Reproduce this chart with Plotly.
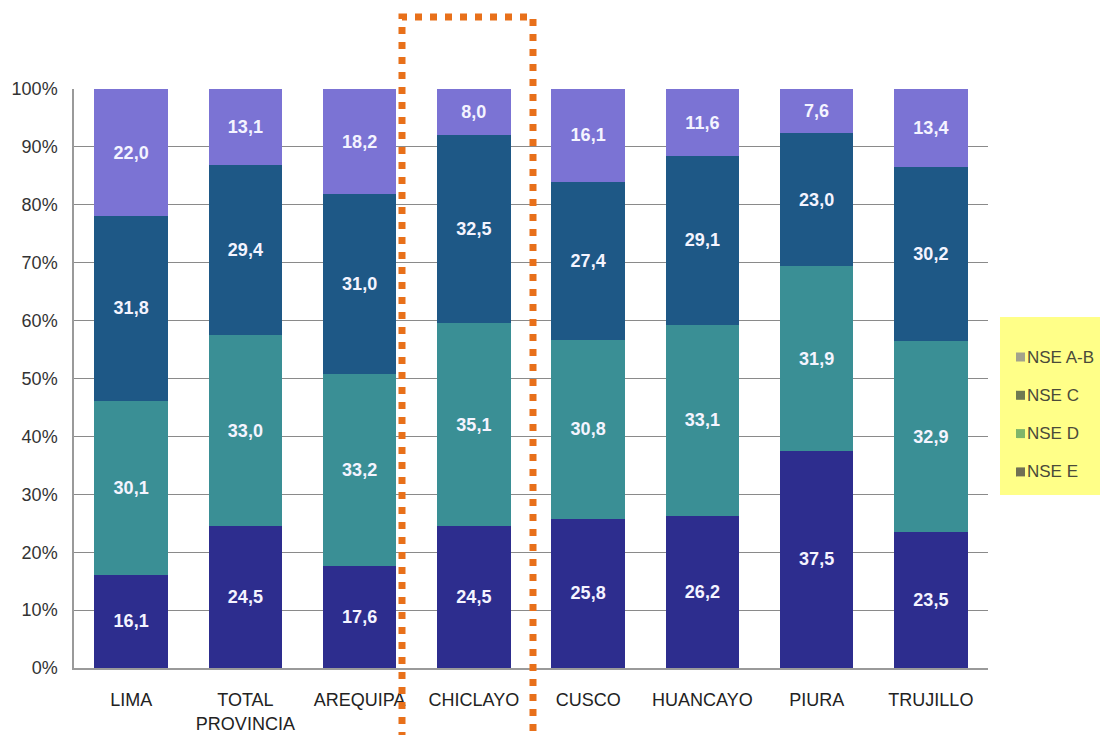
import plotly.graph_objects as go

categories = ["LIMA", "TOTAL<br>PROVINCIA", "AREQUIPA", "CHICLAYO", "CUSCO", "HUANCAYO", "PIURA", "TRUJILLO"]
nse_e = [16.1, 24.5, 17.6, 24.5, 25.8, 26.2, 37.5, 23.5]
nse_d = [30.1, 33.0, 33.2, 35.1, 30.8, 33.1, 31.9, 32.9]
nse_c = [31.8, 29.4, 31.0, 32.5, 27.4, 29.1, 23.0, 30.2]
nse_ab = [22.0, 13.1, 18.2, 8.0, 16.1, 11.6, 7.6, 13.4]
y_ticks = [0, 10, 20, 30, 40, 50, 60, 70, 80, 90, 100]
y_tick_labels = [f"{v}%" for v in y_ticks]

series = [
    ("NSE E", nse_e, "#2d2d8e"),
    ("NSE D", nse_d, "#3a8f95"),
    ("NSE C", nse_c, "#1e5886"),
    ("NSE A-B", nse_ab, "#7b73d4"),
]
legend_names = ["NSE A-B", "NSE C", "NSE D", "NSE E"]
legend_colors = ["#a3a38c", "#6f7a52", "#7fb66a", "#707054"]

def fmt(v):
    return f"{v:.1f}".replace(".", ",")

fig = go.Figure()
for name, vals, color in series:
    fig.add_trace(go.Bar(
        x=categories, y=vals, name=name, marker=dict(color=color, line=dict(width=0)),
        text=[fmt(v) for v in vals], textposition="inside", insidetextanchor="middle",
        textangle=0, constraintext="none",
        textfont=dict(family="Liberation Sans, Arial", size=18, color="#f4f4ff", weight="bold"),
        showlegend=False, hoverinfo="skip",
    ))

W, H = 1100, 735
plot_left, plot_right, plot_top, plot_bottom = 74, 988, 89, 668
pw = plot_right - plot_left
ph = plot_bottom - plot_top

def px_x(x):
    return (x - plot_left) / pw

def px_y(y):
    return (plot_bottom - y) / ph

shapes = [
    dict(type="rect", xref="paper", yref="paper",
         x0=px_x(1000), x1=px_x(1130), y0=px_y(495), y1=px_y(317),
         fillcolor="#ffff88", line=dict(width=0), layer="below"),
    dict(type="rect", xref="paper", yref="paper",
         x0=px_x(402), x1=px_x(533), y0=px_y(780), y1=px_y(17),
         fillcolor="rgba(0,0,0,0)", line=dict(color="#e8701a", width=7, dash="7px,8px"),
         layer="above"),
]
annotations = []
legend_y0, legend_step = 357, 38.3
for i, (name, color) in enumerate(zip(legend_names, legend_colors)):
    yc = legend_y0 + i * legend_step
    shapes.append(dict(type="rect", xref="paper", yref="paper",
                       x0=px_x(1016), x1=px_x(1025), y0=px_y(yc + 4.5), y1=px_y(yc - 4.5),
                       fillcolor=color, line=dict(width=0), layer="above"))
    annotations.append(dict(xref="paper", yref="paper", x=px_x(1026), y=px_y(yc),
                            xanchor="left", yanchor="middle", showarrow=False, text=name,
                            borderpad=0,
                            font=dict(family="Liberation Sans, Arial", size=17, color="#4a4a3a")))

fig.update_layout(
    width=W, height=H,
    margin=dict(l=plot_left, r=W - plot_right, t=plot_top, b=H - plot_bottom, autoexpand=False),
    barmode="stack", bargap=0.357, showlegend=False,
    paper_bgcolor="white", plot_bgcolor="white",
    font=dict(family="Liberation Sans, Arial", size=18, color="#333333"),
    xaxis=dict(showgrid=False, showline=True, linecolor="#9a9a9a", linewidth=1.5,
               ticks="", ticklabelstandoff=15, tickfont=dict(size=18, color="#222222")),
    yaxis=dict(range=[0, 100], tickvals=y_ticks, ticktext=y_tick_labels,
               showgrid=True, gridcolor="#8a8a8a", gridwidth=1,
               showline=True, linecolor="#9a9a9a", linewidth=1.5,
               ticks="", ticklabelstandoff=11, tickfont=dict(size=18, color="#333333"),
               zeroline=False),
    shapes=shapes,
    annotations=annotations,
)

fig.write_html("out.html", config={"displayModeBar": False},
               post_script="document.body.style.margin='0';document.body.style.overflow='hidden';")
